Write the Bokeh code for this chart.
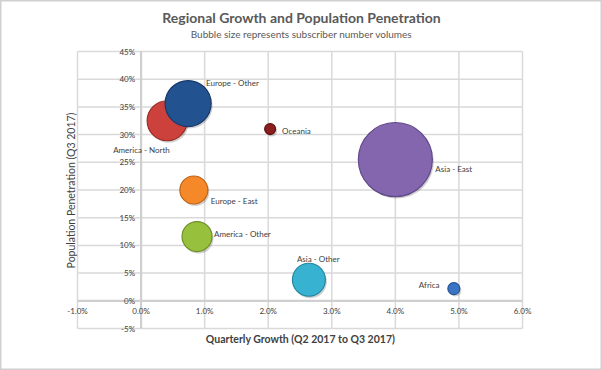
from bokeh.plotting import figure
from bokeh.models import ColumnDataSource, Label
from bokeh.embed import file_html
from bokeh.resources import INLINE
from bokeh.core.properties import value
import math

# ---- data ----
regions = ["America - North", "Europe - Other", "Oceania", "Asia - East",
           "Europe - East", "America - Other", "Asia - Other", "Africa"]
growth = [0.0041, 0.0074, 0.0203, 0.0400, 0.0083, 0.0088, 0.0264, 0.0492]
penetration = [0.325, 0.356, 0.310, 0.255, 0.200, 0.116, 0.038, 0.022]
subscribers = [400, 530, 30, 1370, 196, 225, 272, 36]
x_ticks = [-0.01, 0.0, 0.01, 0.02, 0.03, 0.04, 0.05, 0.06]
y_ticks = [-0.05, 0.0, 0.05, 0.10, 0.15, 0.20, 0.25, 0.30, 0.35, 0.40, 0.45]
x_tick_labels = ["-1.0%", "0.0%", "1.0%", "2.0%", "3.0%", "4.0%", "5.0%", "6.0%"]
y_tick_labels = ["-5%", "0%", "5%", "10%", "15%", "20%", "25%", "30%", "35%",
                 "40%", "45%"]

# ---- layout / styles ----
W, H = 602, 370
PL, PR, PT, PB = 77, 522, 51, 328      # plot-area edges in canvas pixels
colors = ["#CC413B", "#225290", "#8B1E1E", "#8466AE", "#F5892A",
          "#97C03D", "#38B2D1", "#3A74C4"]
line_colors = ["#9A2E29", "#17396A", "#5E1212", "#60498A", "#BF6418",
               "#6E902A", "#24869F", "#255496"]
label_dx = [-54, 18, 12, 40, 17, 17, -12, -35]
label_dy = [29, -21, 2, 9, 11, -3, -21, -4]
FONT = "Lato"
TXT = "#404040"
GRID = "#D9D9D9"

x0, x1 = x_ticks[0], x_ticks[-1]
y0, y1 = y_ticks[0], y_ticks[-1]
sx = (x1 - x0) / (PR - PL)   # data units per pixel
sy = (y1 - y0) / (PB - PT)
x_range = (x0 - PL * sx, x1 + (W - PR) * sx)
y_range = (y0 - (H - PB) * sy, y1 + PT * sy)

p = figure(width=W, height=H, output_backend="svg", toolbar_location=None,
           x_range=x_range, y_range=y_range, min_border=0)
p.xaxis.visible = False
p.yaxis.visible = False
p.grid.visible = False
p.outline_line_color = "#D0D0D0"
p.outline_line_width = 2
p.background_fill_color = "white"
p.border_fill_color = "white"

# grid lines of the plot area
p.segment(x0=x_ticks, x1=x_ticks, y0=[y0] * len(x_ticks), y1=[y1] * len(x_ticks),
          line_color=GRID, line_width=1.5)
p.segment(x0=[x0] * len(y_ticks), x1=[x1] * len(y_ticks), y0=y_ticks, y1=y_ticks,
          line_color=GRID, line_width=1.5)
# axis lines crossing at zero
p.segment(x0=[x0], x1=[x1], y0=[0], y1=[0], line_color="#CFCFCF", line_width=2.2)
p.segment(x0=[0], x1=[0], y0=[y0], y1=[y1], line_color="#CFCFCF", line_width=2.2)

# tick labels at the zero-crossing axes
p.text(x=x_ticks, y=[0] * len(x_ticks), text=x_tick_labels, y_offset=10,
       text_align="center", text_baseline="middle", text_font=value(FONT),
       text_font_size="8px", text_color=TXT)
p.text(x=[0] * len(y_ticks), y=y_ticks, text=y_tick_labels, x_offset=-6,
       text_align="right", text_baseline="middle", text_font=value(FONT),
       text_font_size="8px", text_color=TXT)

sizes = [2 * math.sqrt(v) for v in subscribers]
src = ColumnDataSource(dict(
    x=growth, y=penetration, name=regions, size=sizes,
    sx=[g + 1.5 * sx for g in growth], sy=[q - 2.0 * sy for q in penetration],
    color=colors, lc=line_colors, dx=label_dx, dy=label_dy,
))

# bubbles: soft shadow, then bubble
p.scatter("sx", "sy", size="size", source=src, fill_color="#000000",
          fill_alpha=0.18, line_color=None)
p.scatter("x", "y", size="size", source=src, fill_color="color",
          line_color="lc", line_width=1.2, fill_alpha=1.0)

p.text("x", "y", text="name", source=src, x_offset="dx", y_offset="dy",
       text_font=value(FONT), text_font_size="8px", text_color=TXT,
       text_baseline="middle", text_align="left")

p.add_layout(Label(x=301, y=H - 17, x_units="screen", y_units="screen",
                   text="Regional Growth and Population Penetration",
                   text_font=FONT, text_font_size="14px", text_font_style="bold",
                   text_color="#595959", text_align="center",
                   text_baseline="middle"))
p.add_layout(Label(x=301, y=H - 33, x_units="screen", y_units="screen",
                   text="Bubble size represents subscriber number volumes",
                   text_font=FONT, text_font_size="10px",
                   text_color="#595959", text_align="center",
                   text_baseline="middle"))
p.add_layout(Label(x=300, y=H - 338, x_units="screen", y_units="screen",
                   text="Quarterly Growth (Q2 2017 to Q3 2017)",
                   text_font=FONT, text_font_size="10.5px", text_font_style="bold",
                   text_color="#404040", text_align="center",
                   text_baseline="middle"))
p.add_layout(Label(x=70, y=H - 190, x_units="screen", y_units="screen",
                   text="Population Penetration (Q3 2017)", angle=math.pi / 2,
                   text_font=FONT, text_font_size="10.5px",
                   text_color="#404040", text_align="center",
                   text_baseline="middle"))

open("out.html", "w").write(file_html(p, INLINE))
